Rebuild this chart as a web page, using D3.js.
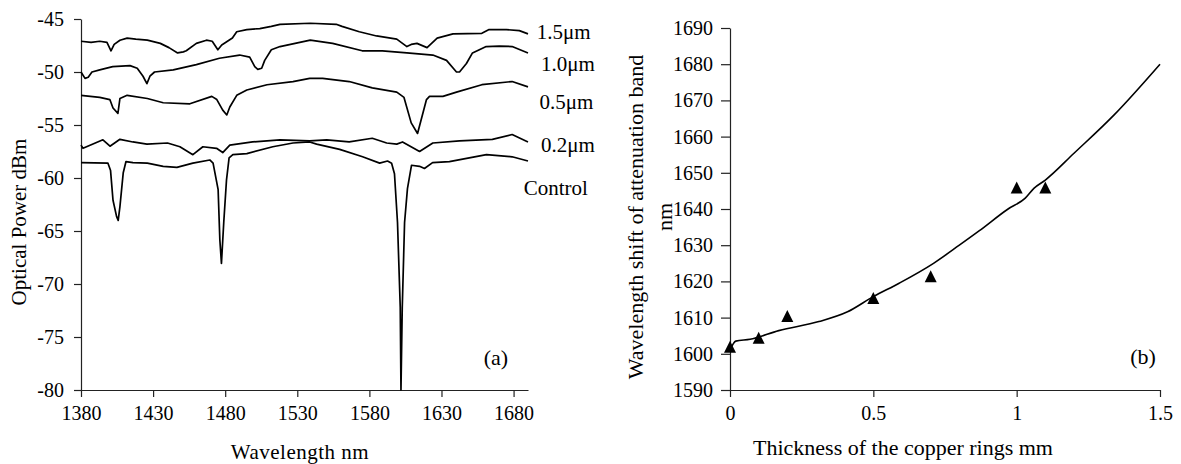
<html>
  <head>
    <meta charset="UTF-8">
    <script src="https://d3js.org/d3.v7.min.js"></script>
    <title>Attenuation bands</title>
    <style>
      body { margin: 0; background: #fff; }
    </style>
  </head>
  <body>
  <script type="text/javascript">

    // ---- data (a): optical spectra, [wavelength nm, power dBm] ----
    var spec15 = [[1380,-47.1],[1387,-47.2],[1393,-47.1],[1398,-47.2],[1400.8,-48.0],[1403,-47.4],[1407,-47.0],[1412,-46.8],[1418,-46.9],
      [1426,-47.0],[1435,-47.3],[1441,-47.7],[1447,-48.2],[1451,-48.1],[1453,-48.0],[1460,-47.3],[1467,-47.0],[1471,-47.1],[1474.9,-47.9],
      [1477.6,-47.45],[1485,-46.8],[1488,-46.2],[1495,-46.0],[1504,-45.9],[1512,-45.7],[1518,-45.5],[1539,-45.4],[1557,-45.5],[1561,-45.7],
      [1573,-46.2],[1585,-46.6],[1599,-46.9],[1606,-47.6],[1609,-47.4],[1613,-47.3],[1620,-47.7],[1627,-46.8],[1638,-46.4],[1658,-46.35],
      [1663,-46.0],[1675,-46.0],[1684,-46.1],[1690,-46.4]];
    var spec10 = [[1380,-50.0],[1382.8,-50.6],[1385,-50.5],[1387.6,-50.0],[1393,-49.8],[1402,-49.5],[1414,-49.4],[1419,-49.65],[1423,-50.4],
      [1425.7,-51.1],[1427.8,-50.4],[1431,-50.0],[1444,-49.8],[1460,-49.3],[1476,-48.7],[1490,-48.4],[1497,-48.6],[1500.5,-49.5],[1502.6,-49.75],
      [1505.3,-49.65],[1507.4,-48.9],[1512,-47.9],[1518,-47.6],[1539,-47.0],[1554.5,-47.3],[1575,-48.0],[1589,-48.0],[1606,-48.2],[1624,-48.4],
      [1633.5,-48.9],[1640.4,-50.0],[1642.5,-50.0],[1647.3,-49.2],[1651.5,-48.2],[1661,-47.6],[1670,-47.55],[1679,-47.6],[1690,-48.2]];
    var spec05 = [[1380,-52.2],[1393,-52.4],[1400,-52.6],[1402.2,-53.4],[1405.6,-53.9],[1407,-52.5],[1412,-52.2],[1426,-52.5],[1437,-52.9],
      [1455.5,-53.0],[1470.7,-52.3],[1474.2,-52.6],[1478.3,-53.6],[1481.1,-54.05],[1483.2,-53.3],[1488,-52.2],[1495,-51.7],[1509,-51.2],
      [1527,-50.9],[1538.6,-50.6],[1547.6,-50.6],[1566,-50.9],[1582,-51.5],[1599,-51.9],[1604,-52.4],[1609,-54.8],[1613.4,-55.8],
      [1619.6,-52.6],[1621.7,-52.3],[1631,-52.3],[1640.4,-51.9],[1658,-51.2],[1679,-50.9],[1690,-51.4]];
    var spec02 = [[1380,-56.9],[1381.4,-57.2],[1388.3,-56.8],[1395.2,-56.4],[1400.1,-57.0],[1407,-56.35],[1416,-56.6],[1425.7,-56.8],
      [1440,-56.7],[1448.6,-57.05],[1457.6,-57.8],[1464.5,-57.05],[1474,-57.2],[1478.3,-57.6],[1483.2,-56.9],[1499,-56.6],[1518,-56.4],
      [1538.6,-56.5],[1550.4,-56.4],[1566,-56.6],[1582,-56.25],[1592,-56.7],[1599,-56.8],[1603,-56.6],[1614.8,-57.5],[1624,-56.7],
      [1642.5,-56.5],[1665.3,-56.35],[1679,-55.9],[1690,-56.6]];
    var specControl = [[1380,-58.55],[1398.7,-58.6],[1400.5,-59.3],[1402.2,-62.1],[1404.7,-63.65],[1405.8,-64.0],[1407,-62.7],[1409.3,-59.5],
      [1411.2,-58.45],[1416,-58.55],[1426,-58.6],[1437,-58.9],[1446.5,-59.0],[1457.6,-58.6],[1469.3,-58.3],[1471.6,-58.6],[1475.1,-61.1],
      [1476.3,-65.85],[1477.4,-68.05],[1479,-64.2],[1480.9,-60.2],[1482.7,-58.1],[1485.3,-57.8],[1495,-57.7],[1513,-57.05],[1527,-56.7],
      [1538.6,-56.6],[1543.4,-56.8],[1559.4,-57.3],[1575.3,-58.0],[1587.1,-58.6],[1592.6,-58.4],[1595.4,-58.6],[1597.4,-59.6],
      [1599.5,-64.2],[1601.4,-72.2],[1601.9,-80],[1602.8,-72.2],[1604.4,-64.2],[1606.4,-61],[1609.2,-58.8],[1614.8,-58.9],[1618.2,-59.1],
      [1623.8,-58.55],[1635.5,-58.45],[1661.2,-57.8],[1679,-58.0],[1690,-58.4]];
    var specNames = ["1.5\u03bcm", "1.0\u03bcm", "0.5\u03bcm", "0.2\u03bcm", "Control"];
    var wlTicks = [1380, 1430, 1480, 1530, 1580, 1630, 1680];
    var powerTicks = [-45, -50, -55, -60, -65, -70, -75, -80];

    // ---- data (b): wavelength shift vs copper ring thickness ----
    var thickness = [0, 0.1, 0.2, 0.5, 0.7, 1.0, 1.1];
    var shift = [1601.5, 1604, 1610, 1615, 1621, 1645.5, 1645.5];
    var fitThickness = [0, 0.02, 0.07, 0.17, 0.31, 0.41, 0.5, 0.59, 0.71, 0.8, 0.87, 0.97, 1.03, 1.06, 1.1, 1.2, 1.34, 1.5];
    var fitShift = [1601, 1603.5, 1604, 1606.4, 1608.9, 1611.6, 1615.8, 1619.5, 1625, 1630, 1634, 1640, 1643, 1645.7, 1648, 1655.4, 1666, 1680];
    var thickTicks = [0, 0.5, 1, 1.5];
    var shiftTicks = [1590, 1600, 1610, 1620, 1630, 1640, 1650, 1660, 1670, 1680, 1690];

    var FONT = '"Liberation Serif", "Times New Roman", Times, serif';
    var width = 1181, height = 464;
    var svg = d3.select('body').append('svg')
                .attr('width', width)
                .attr('height', height)
                .style('font-family', FONT);

    function styleAxis(g) {
      g.attr('font-family', FONT);
      g.select('.domain').attr('stroke', '#222').attr('stroke-width', 1.2);
      g.selectAll('.tick line').attr('stroke', '#222').attr('stroke-width', 1.2);
      g.selectAll('.tick text')
       .style('font-family', FONT)
       .style('font-size', '20px')
       .attr('fill', '#000');
    }

    function addText(x, y, size, str, rot) {
      var t = svg.append('text')
         .attr('text-anchor', 'middle')
         .style('font-family', FONT)
         .style('font-size', size + 'px')
         .attr('fill', '#000')
         .text(str);
      if (rot) t.attr('transform', 'translate(' + x + ',' + y + ') rotate(-90)');
      else t.attr('x', x).attr('y', y);
      return t;
    }

    // ================= panel (a) =================
    var xa = d3.scaleLinear().domain([1380, 1690]).range([81, 528]);
    var ya = d3.scaleLinear().domain([-80, -45]).range([390, 19]);

    svg.append('g').attr('transform', 'translate(0,390)')
       .call(d3.axisBottom(xa).tickValues(wlTicks).tickFormat(function(d){ return String(d); })
             .tickSize(7).tickSizeOuter(0).tickPadding(9))
       .call(styleAxis);
    svg.append('g').attr('transform', 'translate(81,0)')
       .call(d3.axisLeft(ya).tickValues(powerTicks).tickFormat(function(d){ return String(d); })
             .tickSize(7).tickSizeOuter(0).tickPadding(10))
       .call(styleAxis);

    var lineA = d3.line().x(function(d){ return xa(d[0]); }).y(function(d){ return ya(d[1]); });
    var spectra = [spec15, spec10, spec05, spec02, specControl];
    svg.selectAll('path.spec').data(spectra).enter().append('path')
       .attr('class', 'spec')
       .attr('d', lineA)
       .attr('fill', 'none')
       .attr('stroke', '#000')
       .attr('stroke-width', 1.7)
       .attr('stroke-linejoin', 'round');

    // labels for each trace (position in data units)
    var labelPos = [[1696, -46.9], [1699, -49.95], [1698, -53.5], [1699, -57.5], [1687, -61.6]];
    svg.selectAll('text.specname').data(specNames).enter().append('text')
       .attr('class', 'specname')
       .attr('x', function(d, i){ return xa(labelPos[i][0]); })
       .attr('y', function(d, i){ return ya(labelPos[i][1]); })
       .style('font-family', FONT)
       .style('font-size', '21px')
       .text(function(d){ return d; });

    addText(496, 365, 22, '(a)');
    addText(300, 459, 21, 'Wavelength nm').style('letter-spacing', '0.5px');
    addText(26, 222, 21, 'Optical Power dBm', true);

    // ================= panel (b) =================
    var xb = d3.scaleLinear().domain([0, 1.5]).range([730, 1160]);
    var yb = d3.scaleLinear().domain([1590, 1690]).range([390, 28]);

    svg.append('g').attr('transform', 'translate(0,390)')
       .call(d3.axisBottom(xb).tickValues(thickTicks).tickFormat(function(d){ return String(d); })
             .tickSize(7).tickSizeOuter(0).tickPadding(9))
       .call(styleAxis);
    svg.append('g').attr('transform', 'translate(730,0)')
       .call(d3.axisLeft(yb).tickValues(shiftTicks).tickFormat(function(d){ return String(d); })
             .tickSize(9).tickSizeOuter(0).tickPadding(8))
       .call(styleAxis);

    var lineB = d3.line().x(function(d){ return xb(d[0]); }).y(function(d){ return yb(d[1]); })
                  .curve(d3.curveMonotoneX);
    svg.append('path')
       .datum(fitThickness.map(function(t, i){ return [t, fitShift[i]]; }))
       .attr('d', lineB)
       .attr('fill', 'none')
       .attr('stroke', '#000')
       .attr('stroke-width', 1.6)
       .attr('stroke-linejoin', 'round');

    svg.selectAll('path.pt').data(thickness).enter().append('path')
       .attr('class', 'pt')
       .attr('transform', function(d, i){ return 'translate(' + xb(d) + ',' + yb(shift[i]) + ')'; })
       .attr('d', 'M0,-7.5L6,4.5L-6,4.5Z')
       .attr('fill', '#000');

    addText(1143, 364, 22, '(b)');
    addText(903, 455, 22, 'Thickness of the copper rings mm');
    addText(643, 217, 22, 'Wavelength shift of attenuation band', true);
    addText(672, 217, 22, 'nm', true);

  </script>
  </body>
</html>
